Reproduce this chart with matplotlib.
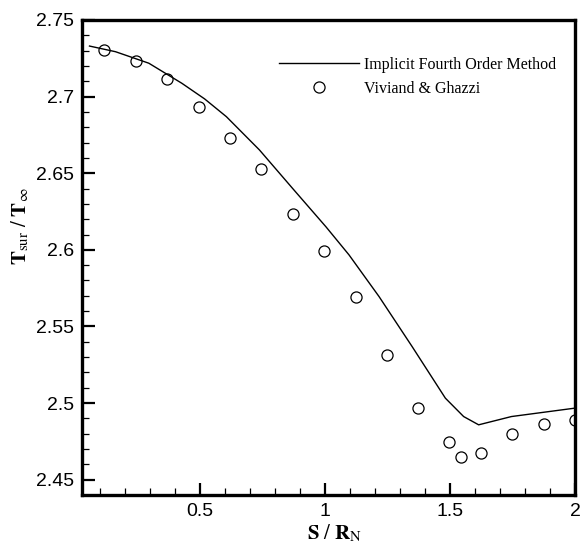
import matplotlib
matplotlib.use("Agg")
import matplotlib.pyplot as plt
from matplotlib.ticker import MultipleLocator

plt.rcParams['mathtext.fontset'] = 'stix'

# Numerical solution (line)
s_num = [0.060, 0.164, 0.297, 0.429, 0.520, 0.607, 0.739, 0.872, 1.005, 1.097,
         1.164, 1.217, 1.349, 1.482, 1.555, 1.615, 1.746, 2.0]
t_num = [2.7330, 2.7293, 2.7218, 2.7087, 2.6985, 2.6869, 2.6652, 2.6400, 2.6150, 2.5967,
         2.5815, 2.5695, 2.5369, 2.5032, 2.4912, 2.4858, 2.4912, 2.4967]

# Reference data (circles)
s_ref = [0.119, 0.245, 0.371, 0.496, 0.621, 0.747, 0.872, 0.998, 1.124, 1.249,
         1.373, 1.498, 1.546, 1.626, 1.749, 1.876, 2.0]
t_ref = [2.7304, 2.7231, 2.7113, 2.6931, 2.6732, 2.6528, 2.6234, 2.5993, 2.5689, 2.5315,
         2.4971, 2.4743, 2.4651, 2.4677, 2.4797, 2.4865, 2.489]

label_num = "Implicit Fourth Order Method"
label_ref = "Viviand & Ghazzi"

fig = plt.figure(figsize=(5.8, 5.51), dpi=100)
ax = fig.add_axes([82/580, 1-495/551, (575-82)/580, (495-20)/551])

ax.plot(s_num, t_num, color='black', lw=1.0, label=label_num)
ax.plot(s_ref, t_ref, linestyle='none', marker='o', ms=8, mfc='none',
        mec='black', mew=0.9, label=label_ref)

ax.set_xlim(0.03, 2.0)
ax.set_ylim(2.44, 2.75)
ax.xaxis.set_major_locator(MultipleLocator(0.5))
ax.xaxis.set_minor_locator(MultipleLocator(0.1))
ax.yaxis.set_major_locator(MultipleLocator(0.05))
ax.yaxis.set_minor_locator(MultipleLocator(0.01))
ax.set_xticks([0.5, 1.0, 1.5, 2.0])
ax.set_xticklabels(['0.5', '1', '1.5', '2'])
ax.set_yticks([2.45, 2.5, 2.55, 2.6, 2.65, 2.7, 2.75])
ax.set_yticklabels(['2.45', '2.5', '2.55', '2.6', '2.65', '2.7', '2.75'])

for sp in ax.spines.values():
    sp.set_linewidth(2.4)

ax.tick_params(which='both', direction='in', top=False, right=False)
ax.tick_params(which='major', length=9, width=1.6, pad=6, labelsize=14)
ax.tick_params(which='minor', length=5, width=0.9)
for lab in ax.get_xticklabels() + ax.get_yticklabels():
    lab.set_family('Liberation Sans')

ax.set_xlabel(r'$\mathbf{S}\ /\ \mathbf{R}_{\rm N}$', fontsize=15)
ax.set_ylabel(r'$\mathbf{T}_{\rm sur}\ /\ \mathbf{T}_{\infty}$', fontsize=15)
ax.xaxis.set_label_coords(0.513, -0.058)
ax.yaxis.set_label_coords(-0.104, 0.566)

leg = ax.legend(loc='upper left', bbox_to_anchor=(0.3996, 0.922), frameon=False,
                prop={'family': 'Liberation Serif', 'size': 11.5},
                handlelength=5.0, handletextpad=0.35, borderpad=0, borderaxespad=0,
                labelspacing=0.5)

fig.savefig('out.png', dpi=100)
